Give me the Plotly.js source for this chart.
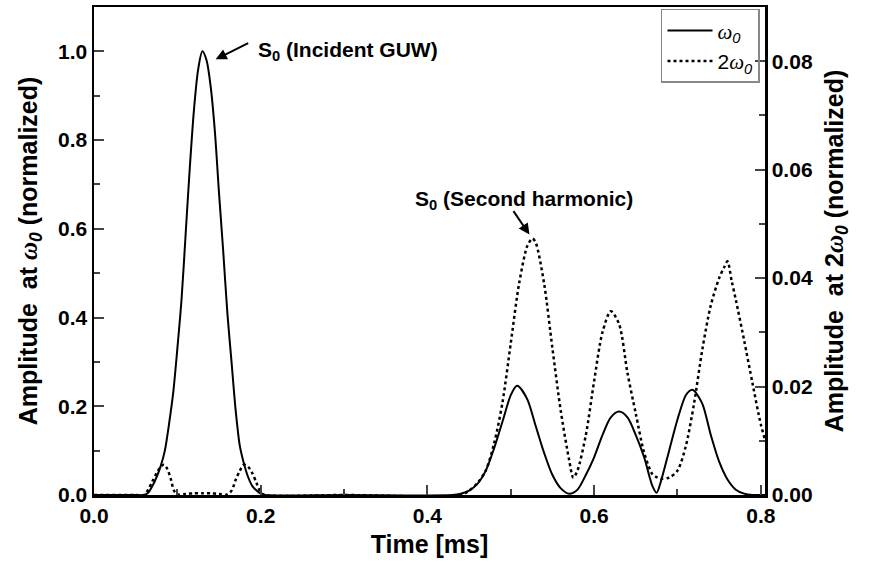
<!DOCTYPE html>
<html>
<head>
<meta charset="utf-8">
<script src="https://cdn.plot.ly/plotly-3.0.1.min.js"></script>
<style>html,body{margin:0;padding:0;background:#fff;}#chart{width:869px;height:567px;}</style>
</head>
<body>
<div id="chart"></div>
<script>
// Amplitude at ω0 (left axis, normalized)
var timeW0 = [0, 0.05, 0.06, 0.065, 0.07, 0.075, 0.08, 0.085, 0.09, 0.095, 0.10, 0.105, 0.11, 0.115, 0.12, 0.125, 0.13, 0.135, 0.14, 0.145, 0.15, 0.155, 0.16, 0.165, 0.17, 0.175, 0.18, 0.185, 0.19, 0.195, 0.20, 0.205, 0.30, 0.43,
  0.44, 0.45, 0.46, 0.47, 0.48, 0.49, 0.50, 0.507, 0.51, 0.52, 0.53, 0.54, 0.55, 0.56, 0.57, 0.58, 0.59, 0.60, 0.61, 0.62, 0.63, 0.64, 0.65, 0.66, 0.67, 0.675, 0.68, 0.69, 0.70, 0.71, 0.717, 0.72, 0.73, 0.74, 0.75, 0.76, 0.77, 0.78, 0.79, 0.805];
var ampW0 = [0, 0, 0, 0.005, 0.02, 0.04, 0.065, 0.1, 0.16, 0.23, 0.33, 0.44, 0.59, 0.74, 0.87, 0.96, 1.0, 0.98, 0.92, 0.82, 0.68, 0.55, 0.41, 0.30, 0.19, 0.11, 0.07, 0.04, 0.02, 0.01, 0.003, 0, 0, 0,
  0.003, 0.01, 0.025, 0.055, 0.105, 0.165, 0.225, 0.246, 0.244, 0.215, 0.155, 0.095, 0.045, 0.015, 0.003, 0.012, 0.045, 0.085, 0.135, 0.175, 0.188, 0.175, 0.135, 0.085, 0.02, 0.005, 0.03, 0.10, 0.17, 0.225, 0.237, 0.235, 0.205, 0.135, 0.075, 0.035, 0.012, 0.003, 0, 0];

// Amplitude at 2ω0 (right axis, normalized)
var time2W0 = [0, 0.05, 0.06, 0.065, 0.07, 0.075, 0.08, 0.084, 0.088, 0.092, 0.096, 0.10, 0.11, 0.12, 0.13, 0.14, 0.15, 0.16, 0.165, 0.17, 0.175, 0.18, 0.185, 0.19, 0.195, 0.20, 0.205, 0.30, 0.44,
  0.45, 0.46, 0.47, 0.48, 0.49, 0.50, 0.51, 0.52, 0.526, 0.53, 0.54, 0.55, 0.56, 0.57, 0.575, 0.58, 0.59, 0.60, 0.61, 0.62, 0.63, 0.64, 0.65, 0.66, 0.67, 0.675, 0.68, 0.69, 0.70, 0.71, 0.72, 0.73, 0.74, 0.75, 0.756, 0.76, 0.765, 0.77, 0.78, 0.79, 0.80, 0.805];
var amp2W0 = [0, 0, 0, 0.001, 0.0025, 0.004, 0.0052, 0.0056, 0.0048, 0.003, 0.0008, 0.0001, 0.0002, 0.0003, 0.0003, 0.0003, 0.0002, 0.0001, 0.0008, 0.0028, 0.0045, 0.0056, 0.0052, 0.004, 0.0022, 0.0005, 0, 0, 0,
  0.0008, 0.0022, 0.0045, 0.0095, 0.017, 0.028, 0.039, 0.046, 0.0473, 0.0465, 0.039, 0.027, 0.0155, 0.0065, 0.0032, 0.0045, 0.011, 0.021, 0.030, 0.0339, 0.0315, 0.0225, 0.015, 0.0078, 0.0038, 0.0033, 0.003, 0.0032, 0.0045, 0.009, 0.017, 0.027, 0.035, 0.040, 0.042, 0.0431, 0.0395, 0.036, 0.0285, 0.0206, 0.013, 0.0102];

var FONT = 'Liberation Sans, Arial, sans-serif';
var W = '<span style="font-family:Liberation Serif"><i>ω</i></span>';

var traces = [
  {x: timeW0, y: ampW0, type: 'scatter', mode: 'lines', name: W + '<sub><i>0</i></sub>',
   line: {color: '#000', width: 2, shape: 'spline', smoothing: 0.8}, yaxis: 'y'},
  {x: time2W0, y: amp2W0, type: 'scatter', mode: 'lines', name: '2' + W + '<sub><i>0</i></sub>',
   line: {color: '#000', width: 2.5, dash: 'dot', shape: 'spline', smoothing: 0.8}, yaxis: 'y2'}
];

var tickfont = {family: FONT, size: 21, color: '#000', weight: 'bold'};
var titlefont = {family: FONT, size: 25, color: '#000', weight: 'bold'};

var layout = {
  width: 869, height: 567,
  margin: {l: 94, r: 104, t: 7, b: 72},
  paper_bgcolor: '#fff', plot_bgcolor: '#fff',
  showlegend: true,
  legend: {x: 0.845, y: 0.996, xanchor: 'left', yanchor: 'top', bgcolor: 'rgba(255,255,255,0)',
    bordercolor: '#888', borderwidth: 1.5, itemwidth: 45, tracegroupgap: 0,
    font: {family: FONT, size: 21, color: '#000'}},
  xaxis: {range: [0, 0.805], dtick: 0.2, tick0: 0, tickformat: '.1f', ticks: 'inside', ticklen: 10, tickwidth: 2,
    minor: {dtick: 0.1, ticks: 'inside', ticklen: 6, tickwidth: 2},
    showline: true, linewidth: 2.5, linecolor: '#000', mirror: true, showgrid: false, zeroline: false,
    tickfont: tickfont, title: {text: 'Time [ms]', font: titlefont, standoff: 10}},
  yaxis: {range: [0, 1.1], dtick: 0.2, tick0: 0, tickformat: '.1f', ticks: 'inside', ticklen: 10, tickwidth: 2,
    minor: {dtick: 0.1, ticks: 'inside', ticklen: 6, tickwidth: 2},
    showline: true, linewidth: 2.5, linecolor: '#000', showgrid: false, zeroline: false,
    tickfont: tickfont, title: {text: 'Amplitude &nbsp;at ' + W + '<sub><i>0</i></sub> (normalized)', font: titlefont, standoff: 14}},
  yaxis2: {range: [0, 0.09], dtick: 0.02, tick0: 0, tickformat: '.2f', ticks: 'inside', ticklen: 10, tickwidth: 2,
    minor: {dtick: 0.01, ticks: 'inside', ticklen: 6, tickwidth: 2},
    overlaying: 'y', side: 'right',
    showline: true, linewidth: 2.5, linecolor: '#000', showgrid: false, zeroline: false,
    tickfont: tickfont, title: {text: 'Amplitude &nbsp;at 2' + W + '<sub><i>0</i></sub> (normalized)', font: titlefont, standoff: 14}},
  annotations: [
    {xref: 'x', yref: 'y', x: 0.146, y: 0.982, ax: 34, ay: -17, text: '', showarrow: true,
     arrowhead: 2, arrowsize: 1.1, arrowwidth: 2, arrowcolor: '#000'},
    {xref: 'x', yref: 'y', x: 0.1939, y: 1.0, text: 'S<sub>0</sub> (Incident GUW)', showarrow: false,
     xanchor: 'left', yanchor: 'middle', font: {family: FONT, size: 21, color: '#000', weight: 'bold'}},
    {xref: 'x', yref: 'y', x: 0.5224, y: 0.587, ax: -17, ay: -25, text: '', showarrow: true,
     arrowhead: 2, arrowsize: 1.1, arrowwidth: 2, arrowcolor: '#000'},
    {xref: 'x', yref: 'y', x: 0.3822, y: 0.666, text: 'S<sub>0</sub> (Second harmonic)', showarrow: false,
     xanchor: 'left', yanchor: 'middle', font: {family: FONT, size: 21, color: '#000', weight: 'bold'}}
  ]
};

Plotly.newPlot('chart', traces, layout, {displayModeBar: false, staticPlot: true});
</script>
</body>
</html>
